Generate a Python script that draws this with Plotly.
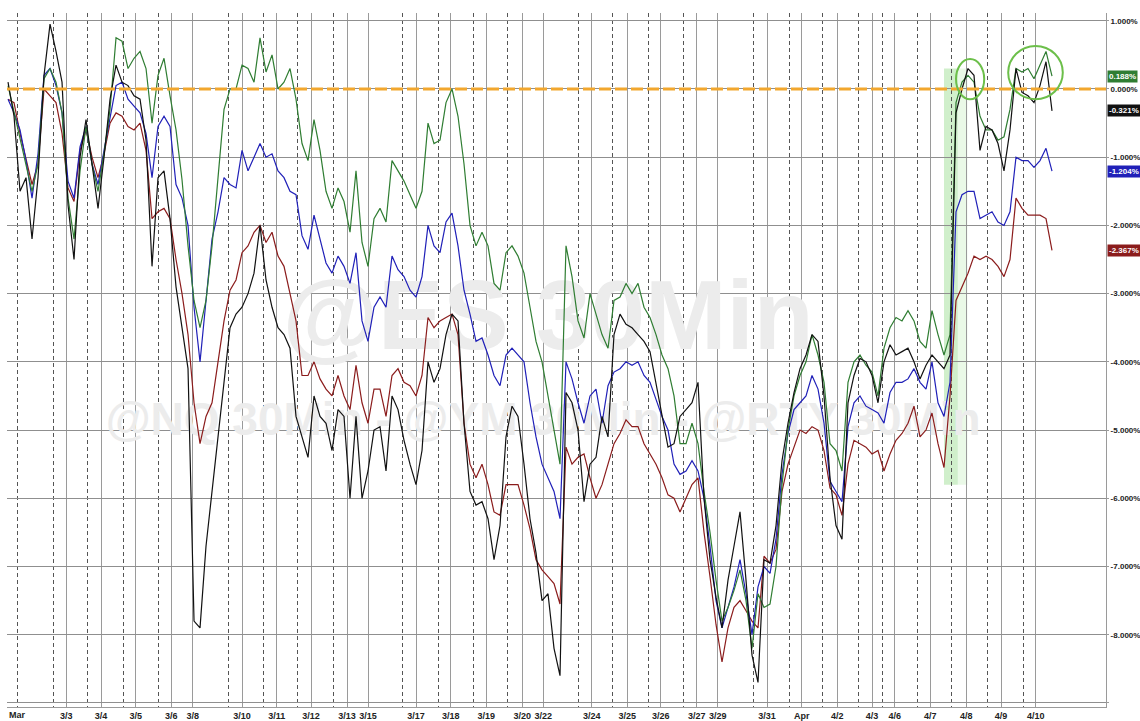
import plotly.graph_objects as go

# % change since the 1 March open.
# One value every ~3 hours of trading; the last value is the closing badge.
green_pct = [
    0.05, -0.35, -0.7, -1.1, -1.5, -1.1, 0.15, 0.3, 0.1, -0.35,
    -1.6, -2.2, -1.2, -0.55, -1.1, -1.5, -0.95, -0.3, 0.75, 0.7,
    0.3, 0.45, 0.55, 0.3, -0.5, 0.2, 0.45, -0.1, -0.6, -1.33,
    -2.3, -3.1, -3.5, -3.1, -2.3, -1.3, -0.3, 0.0, 0.0, 0.35,
    0.3, 0.1, 0.75, 0.25, 0.5, 0.0, 0.1, 0.3, -0.15, -0.8,
    -1.05, -0.45, -0.9, -1.5, -1.75, -1.45, -1.65, -2.1, -1.2, -2.25,
    -2.6, -1.9, -1.75, -1.95, -1.05, -1.2, -1.35, -1.55, -1.75, -1.5,
    -0.5, -0.8, -0.75, -0.2, 0.0, -0.4, -1.1, -2.0, -2.3, -2.1,
    -2.3, -2.85, -2.95, -2.4, -2.3, -2.45, -2.7, -3.2, -3.7, -4.0,
    -4.5, -5.0, -5.5, -2.3, -2.75, -3.4, -3.65, -3.0, -3.3, -3.6,
    -3.8, -3.1, -3.05, -2.85, -3.0, -2.85, -3.2, -3.35, -3.6, -3.9,
    -4.1, -4.5, -5.2, -5.2, -4.9, -5.2, -5.9, -6.5, -7.2, -7.8,
    -7.6, -7.35, -7.05, -7.5, -8.2, -7.4, -7.6, -7.55, -7.0, -5.8,
    -5.0, -4.5, -4.2, -4.0, -3.6, -3.9, -4.3, -5.2, -5.3, -5.6,
    -4.3, -4.0, -3.9, -4.05, -4.15, -4.5, -3.8, -3.5, -3.35, -3.4,
    -3.25, -3.4, -3.7, -3.8, -3.25, -3.6, -3.9, -3.6, -0.2, 0.1,
    0.2, 0.1, -0.4, -0.6, -0.6, -0.75, -0.7, -0.3, 0.3, 0.25,
    0.3, 0.15, 0.35, 0.55, 0.188,
]
black_pct = [
    0.1, -0.4, -1.5, -1.3, -2.2, -1.3, 0.2, 0.95, 0.55, 0.1,
    -1.7, -2.5, -1.0, -0.45, -1.1, -1.75, -1.0, -0.15, 0.35, 0.1,
    0.05, -0.1, -0.15, -0.75, -2.6, -1.3, -1.2, -1.9, -2.9, -3.5,
    -4.1, -7.8, -7.9, -6.7, -5.9, -5.0, -4.3, -3.5, -3.3, -3.2,
    -3.0, -2.7, -2.0, -2.8, -3.2, -3.5, -3.6, -3.8, -4.8, -5.1,
    -5.4, -4.5, -4.8, -4.9, -5.3, -4.7, -4.8, -6.0, -4.8, -6.0,
    -5.6, -5.0, -4.95, -5.6, -4.5, -4.7, -5.15, -5.5, -5.8, -5.3,
    -4.0, -4.3, -4.1, -3.6, -3.3, -3.4, -4.9, -5.9, -6.1, -6.05,
    -6.3, -6.9, -6.4, -5.1, -4.65, -4.8, -5.5, -6.3, -6.8, -7.5,
    -7.4, -8.2, -8.6, -4.45, -4.6, -5.0, -6.05, -5.5, -5.4, -4.8,
    -5.1, -3.6, -3.3, -3.45, -3.5, -3.6, -3.7, -3.85, -4.3, -4.75,
    -5.25, -5.2, -4.8, -4.7, -4.6, -4.3, -6.0, -6.9, -7.45, -7.9,
    -7.2, -6.7, -6.2, -7.2, -8.3, -8.7, -6.9, -6.95, -6.4, -5.45,
    -4.9, -4.45, -4.1, -3.9, -3.6, -3.7, -4.5, -5.7, -6.4, -6.6,
    -4.6, -4.2, -3.95, -4.0, -4.2, -4.6, -4.0, -3.75, -3.9, -3.85,
    -3.8, -4.0, -4.25, -4.05, -3.9, -4.0, -4.1, -3.9, -0.35, 0.0,
    0.3, 0.2, -0.9, -0.55, -0.6, -0.8, -1.2, -0.6, 0.3, -0.05,
    -0.1, -0.2, 0.05, 0.4, -0.321,
]
blue_pct = [
    -0.15, -0.35, -0.6, -1.05, -1.6, -0.95, 0.2, 0.3, 0.05, -0.35,
    -1.35, -1.6, -0.85, -0.55, -1.1, -1.4, -0.9, -0.45, 0.05, 0.1,
    -0.15, -0.25, -0.35, -0.65, -1.3, -0.55, -0.4, -0.55, -1.4, -1.6,
    -2.0, -3.2, -4.0, -3.1, -2.2, -1.8, -1.3, -1.4, -1.45, -0.9,
    -1.2, -1.0, -0.8, -1.0, -0.95, -1.2, -1.3, -1.5, -1.55, -2.15,
    -2.35, -1.85, -2.2, -2.55, -2.7, -2.45, -2.6, -2.85, -2.4, -3.4,
    -3.7, -3.2, -3.05, -3.2, -2.45, -2.65, -2.75, -2.95, -3.05, -2.75,
    -2.0, -2.3, -2.4, -1.95, -1.82, -2.3, -2.95, -3.3, -3.7, -3.65,
    -3.9, -4.2, -4.35, -3.9, -3.8, -3.9, -4.0, -4.6, -5.1, -5.5,
    -5.7, -5.9, -6.3, -4.0, -4.25, -4.6, -4.9, -4.5, -4.4, -4.9,
    -4.35, -4.15, -4.1, -4.0, -4.05, -4.0, -4.2, -4.3, -4.55, -4.8,
    -5.0, -5.5, -5.65, -5.6, -5.45, -5.6, -6.0, -6.7, -7.5, -7.9,
    -7.6, -7.3, -6.9, -7.4, -8.0, -7.3, -7.0, -7.1, -6.6, -5.65,
    -5.05, -4.7, -4.6, -4.5, -4.2, -4.4, -4.9, -5.75, -5.9, -6.05,
    -4.95, -4.6, -4.5, -4.65, -4.7, -4.75, -4.9, -4.45, -4.3, -4.3,
    -4.25, -4.1, -4.3, -4.4, -4.0, -4.6, -4.8, -4.3, -1.8, -1.55,
    -1.5, -1.5, -1.9, -1.85, -1.8, -1.95, -2.0, -1.8, -1.0, -1.05,
    -1.05, -1.15, -1.05, -0.87, -1.204,
]
red_pct = [
    -0.15, -0.2, -0.65, -1.05, -1.4, -1.1, 0.0, -0.1, -0.2, -0.65,
    -1.45, -1.65, -0.9, -0.6, -1.0, -1.3, -0.95, -0.5, -0.35, -0.4,
    -0.55, -0.6, -0.5, -0.9, -1.9, -1.8, -1.75, -1.9, -2.5, -3.0,
    -3.6, -4.6, -5.2, -4.8, -4.6, -4.0, -3.4, -2.95, -2.8, -2.4,
    -2.3, -2.1, -2.0, -2.25, -2.1, -2.45, -2.6, -3.0, -3.4, -4.2,
    -4.2, -4.0, -4.25, -4.4, -4.5, -4.2, -4.5, -4.7, -4.05, -4.6,
    -4.9, -4.4, -4.4, -4.8, -4.2, -4.1, -4.3, -4.35, -4.5, -4.2,
    -3.35, -3.5, -3.4, -3.35, -3.3, -3.6, -4.9, -5.5, -5.7, -5.5,
    -5.8, -6.2, -6.25, -5.8, -5.8, -5.8, -6.1, -6.45, -6.9, -7.05,
    -7.15, -7.25, -7.55, -5.25, -5.5, -5.4, -5.35, -5.7, -6.0, -5.8,
    -5.5, -5.2, -5.05, -4.85, -4.95, -4.95, -5.2, -5.35, -5.5, -5.7,
    -5.95, -6.0, -6.2, -6.0, -5.8, -5.7, -6.5, -7.15, -7.85, -8.4,
    -7.9, -7.6, -7.5, -7.65, -7.8, -7.9, -6.85, -6.95, -6.75, -5.9,
    -5.5, -5.25, -5.0, -5.05, -4.95, -5.0, -5.3, -5.85, -5.95, -6.25,
    -5.5, -5.15, -5.2, -5.25, -5.35, -5.3, -5.6, -5.35, -5.15, -5.05,
    -4.9, -4.65, -5.1, -5.0, -4.75, -5.2, -5.55, -4.5, -3.1, -2.9,
    -2.7, -2.45, -2.5, -2.45, -2.5, -2.6, -2.75, -2.5, -1.6, -1.75,
    -1.85, -1.85, -1.85, -1.9, -2.367,
]

# day labels on the bottom axis and where they fall, in sample units
day_labels = [
    "3/3", "3/4", "3/5", "3/6", "3/8", "3/10", "3/11", "3/12", "3/13", "3/15",
    "3/17", "3/18", "3/19", "3/20", "3/22", "3/24", "3/25", "3/26", "3/27", "3/29",
    "3/31", "Apr", "4/2", "4/3", "4/6", "4/7", "4/8", "4/9", "4/10",
]
day_ticks = [
    9.7, 15.5, 21.3, 27.2, 30.8, 39.0, 44.8, 50.5, 56.5, 60.0,
    68.0, 73.8, 79.7, 85.7, 89.2, 97.3, 103.2, 108.8, 114.8, 118.3,
    126.5, 132.3, 138.2, 144.0, 147.8, 153.7, 159.7, 165.5, 171.3,
]
month_label = "Mar"
month_tick = 1.5
# evening session opens (dashed lines)
session_ticks = [
    1.5, 7.5, 13.3, 19.2, 25.0, 36.7, 42.5, 48.3, 54.2, 65.8,
    71.7, 77.5, 83.3, 95.0, 100.8, 106.7, 112.5, 124.2, 130.2, 135.8,
    141.8, 145.7, 151.5, 157.3, 163.2, 169.2,
]
pct_ticks = [1, 0, -1, -2, -3, -4, -5, -6, -7, -8, -9]

# the 4/7 rally window and the two circled highs
rally_band = (156.0, 158.3, 0.3, -5.8)
circled_highs = [(158.0, 162.7, 0.44, -0.15), (166.7, 175.8, 0.63, -0.15)]

series = [
    (red_pct, "#8b1c1c"),
    (blue_pct, "#2020b8"),
    (green_pct, "#2f7d32"),
    (black_pct, "#111111"),
]

axis_font = dict(size=8, color="#222222", family="Liberation Sans, Arial", weight="bold")

fig = go.Figure()

# watermarks sit under the lines
fig.add_trace(go.Scatter(
    x=[90.0, 89.2], y=[-3.45, -4.9], mode="text",
    text=["@ES 30Min", "@NQ 30Min - @YM 30Min - @RTY 30Min"],
    textfont=dict(size=[98, 46], color="#ececec", family="Liberation Sans, Arial", weight="bold"),
    hoverinfo="skip",
))

for values, color in series:
    fig.add_trace(go.Scatter(
        x=list(range(len(values))),
        y=values,
        mode="lines",
        line=dict(color=color, width=1.2),
        hovertemplate="%{y:.3f}%<extra></extra>",
    ))

x0, x1, y0, y1 = rally_band
fig.add_shape(type="rect", x0=x0, x1=x1, y0=y0, y1=y1, xref="x", yref="y",
              fillcolor="rgba(150, 220, 140, 0.45)", line_width=0, layer="below")
fig.add_shape(type="rect", x0=x1, x1=x1 + 1.6, y0=y0, y1=y1, xref="x", yref="y",
              fillcolor="rgba(170, 230, 160, 0.25)", line_width=0, layer="below")

fig.add_hline(y=0, line=dict(color="#f2a72e", width=3, dash="12px,4px"))

for cx0, cx1, cy0, cy1 in circled_highs:
    fig.add_shape(type="circle", x0=cx0, x1=cx1, y0=cy1, y1=cy0, xref="x", yref="y",
                  line=dict(color="#6cbf4a", width=2))

# closing-value badges on the right axis
for values, color in series:
    last = values[-1]
    fig.add_annotation(
        x=1, xref="paper", xanchor="left", xshift=1,
        y=last, yref="y", yanchor="middle",
        text=f"{last:.3f}%", showarrow=False,
        bgcolor=color, borderpad=1,
        font=dict(size=8, color="white", family="Liberation Sans, Arial", weight="bold"),
    )

fig.add_annotation(
    x=month_tick, xref="x", y=0, yref="paper", yanchor="top", yshift=-1,
    text=month_label, showarrow=False,
    font=dict(size=9, color="#222222", family="Liberation Sans, Arial", weight="bold"),
)

fig.update_layout(
    width=1140,
    height=721,
    margin=dict(l=7, r=34, t=13, b=14),
    paper_bgcolor="white",
    plot_bgcolor="white",
    showlegend=False,
    xaxis=dict(
        range=[-0.17, 183.0],
        tickmode="array",
        tickvals=day_ticks,
        ticktext=day_labels,
        showgrid=True,
        gridcolor="#9a9a9a",
        gridwidth=1,
        zeroline=False,
        showline=True,
        linecolor="#9a9a9a",
        ticks="",
        tickfont=dict(axis_font, size=9),
        automargin=False,
        minor=dict(tickmode="array", tickvals=session_ticks, showgrid=True,
                   gridcolor="#555555", gridwidth=1, griddash="4px,3px", ticks=""),
    ),
    yaxis=dict(
        side="right",
        range=[-9.06, 1.114],
        tickmode="array",
        tickvals=pct_ticks,
        ticktext=[f"{v:.3f}%" if v > -9 else "" for v in pct_ticks],
        showgrid=True,
        gridcolor="#8f8f8f",
        gridwidth=1,
        zeroline=False,
        showline=True,
        linecolor="#9a9a9a",
        ticks="outside",
        ticklen=2,
        tickcolor="#9a9a9a",
        tickfont=axis_font,
        automargin=False,
    ),
)

# the page's default body margin would push the figure 8px right and down
fig.write_html(
    "out.html",
    config={"displayModeBar": False},
    post_script="document.body.style.margin = '0';",
)
